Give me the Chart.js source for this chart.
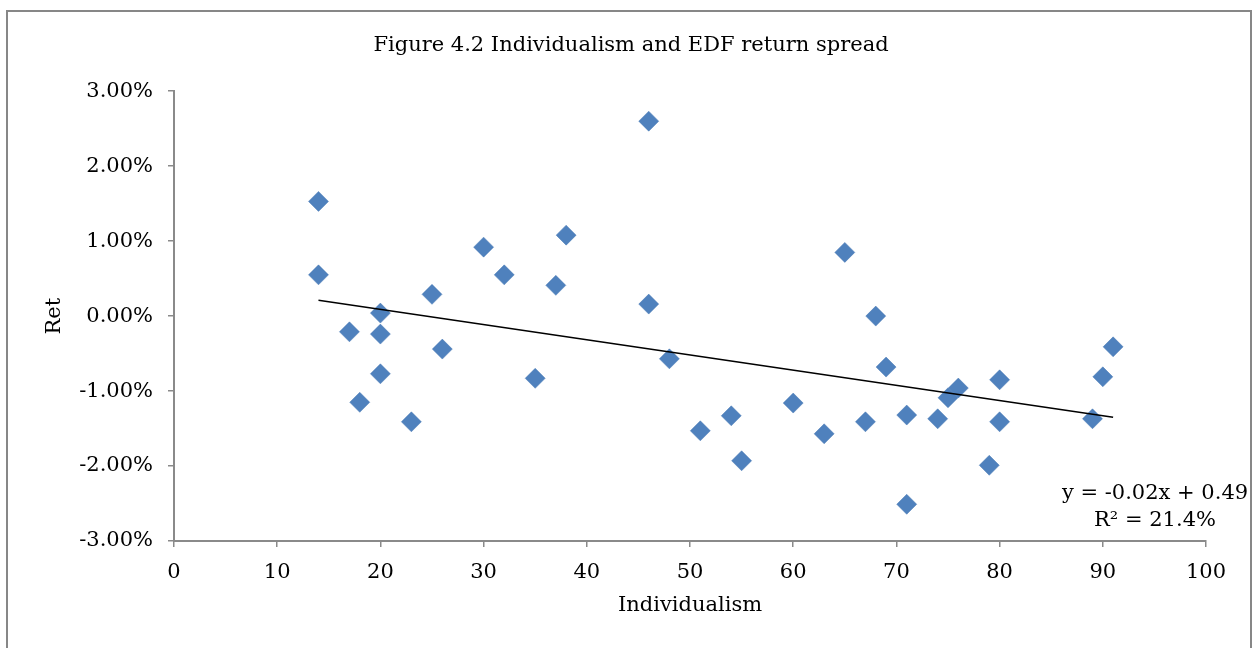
<!DOCTYPE html>
<html>
<head>
<meta charset="utf-8">
<title>Individualism and EDF return spread</title>
<script src="https://cdn.jsdelivr.net/npm/chart.js@4.4.0/dist/chart.umd.min.js"></script>
<style>
    html, body { margin: 0; padding: 0; background: #ffffff; }
    canvas { display: block; }
</style>
</head>
<body>
<canvas id="chart" width="1256" height="648"></canvas>
<script>
// Country individualism score and EDF return spread (%)
const individualism = [14, 14, 17, 18, 20, 20, 20, 23, 25, 26, 30, 32, 35, 37, 38, 46, 46, 48, 51, 54,
    55, 60, 63, 65, 67, 68, 69, 71, 71, 74, 75, 76, 79, 80, 80, 89, 90, 91];
const returnSpread = [1.53, 0.55, -0.21, -1.15, 0.04, -0.24, -0.77, -1.41, 0.29, -0.44, 0.92, 0.55, -0.83, 0.41, 1.08, 2.60, 0.16, -0.57, -1.53, -1.33,
    -1.93, -1.16, -1.57, 0.85, -1.41, 0.00, -0.68, -1.32, -2.51, -1.37, -1.09, -0.96, -1.99, -0.85, -1.41, -1.37, -0.81, -0.41];

// Linear trendline as shown in the figure
const trendX = [14, 91];
const trendY = [0.21, -1.35];
const trendLabel = ['y = -0.02x + 0.49', 'R\u00B2 = 21.4%'];

const FONT = "'DejaVu Serif', serif";
const AXIS_GREY = '#8a8a8a';

// Frame round the whole chart and the trendline equation
const decorations = {
    id: 'decorations',
    beforeDraw(chart) {
        const ctx = chart.ctx;
        ctx.save();
        ctx.fillStyle = '#ffffff';
        ctx.fillRect(0, 0, chart.width, chart.height);
        ctx.strokeStyle = '#878787';
        ctx.lineWidth = 2;
        ctx.strokeRect(7, 11, 1244, 700);
        ctx.restore();
    },
    afterDraw(chart) {
        const ctx = chart.ctx;
        const area = chart.chartArea;
        ctx.save();
        ctx.font = '21px ' + FONT;
        ctx.fillStyle = '#000000';
        ctx.textAlign = 'center';
        ctx.textBaseline = 'middle';
        ctx.fillText(trendLabel[0], area.right - 51, area.bottom - 47);
        ctx.fillText(trendLabel[1], area.right - 51, area.bottom - 20);
        ctx.restore();
    }
};

const points = individualism.map((x, i) => ({ x: x, y: returnSpread[i] }));
const trend = trendX.map((x, i) => ({ x: x, y: trendY[i] }));

new Chart(document.getElementById('chart'), {
    type: 'scatter',
    data: {
        datasets: [
            {
                label: 'Trend',
                type: 'line',
                data: trend,
                borderColor: '#000000',
                borderWidth: 1.5,
                pointRadius: 0,
                fill: false,
                order: 0
            },
            {
                label: 'Ret',
                data: points,
                pointStyle: 'rectRot',
                pointRadius: 10,
                pointHoverRadius: 10,
                backgroundColor: '#4f81bd',
                borderColor: '#4a7ab4',
                borderWidth: 0.5,
                order: 1
            }
        ]
    },
    options: {
        responsive: false,
        animation: false,
        // left padding keeps the title centred on the frame, not the plot
        layout: { padding: { left: 56, right: 50, top: 0, bottom: 0 } },
        plugins: {
            legend: { display: false },
            tooltip: { enabled: false },
            title: {
                display: true,
                text: 'Figure 4.2 Individualism and EDF return spread',
                color: '#000000',
                font: { family: FONT, size: 21, weight: 'normal' },
                padding: { top: 33, bottom: 33 }
            }
        },
        scales: {
            x: {
                type: 'linear',
                min: 0,
                max: 100,
                border: { display: true, color: AXIS_GREY, width: 2 },
                grid: { drawOnChartArea: false, drawTicks: true, tickLength: 6, color: AXIS_GREY, lineWidth: 1.5 },
                ticks: {
                    stepSize: 10,
                    color: '#000000',
                    padding: 13,
                    font: { family: FONT, size: 21 }
                },
                title: {
                    display: true,
                    text: 'Individualism',
                    color: '#000000',
                    font: { family: FONT, size: 21 },
                    padding: { top: 0, bottom: 30 }
                },
                afterFit(scale) { scale.height = 648 - 541; }
            },
            y: {
                type: 'linear',
                min: -3,
                max: 3,
                border: { display: true, color: AXIS_GREY, width: 2 },
                grid: { drawOnChartArea: false, drawTicks: true, tickLength: 6, color: AXIS_GREY, lineWidth: 1.5 },
                ticks: {
                    stepSize: 1,
                    color: '#000000',
                    padding: 15,
                    font: { family: FONT, size: 21 },
                    callback: (v) => v.toFixed(2) + '%'
                },
                title: {
                    display: true,
                    text: 'Ret',
                    color: '#000000',
                    font: { family: FONT, size: 21 },
                    padding: { top: -14, bottom: 0 }
                },
                afterFit(scale) { scale.width = 174 - 56; }
            }
        }
    },
    plugins: [decorations]
});
</script>
</body>
</html>
